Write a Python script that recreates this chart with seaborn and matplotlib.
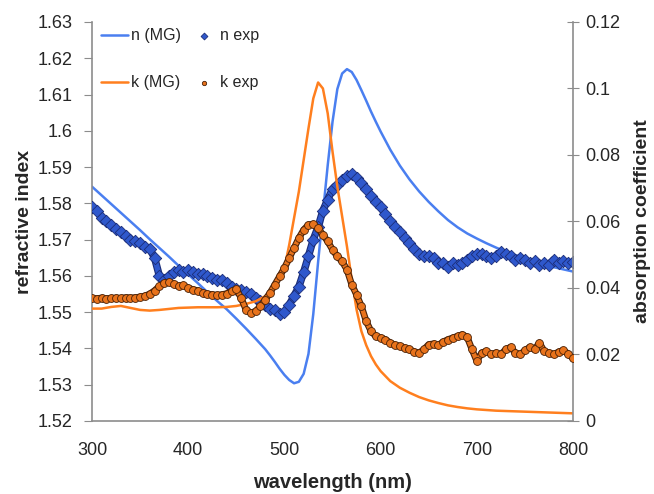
import numpy as np
import pandas as pd
import matplotlib
matplotlib.use("Agg")
import matplotlib.pyplot as plt
import seaborn as sns

# -----------------------------
# Data
# -----------------------------
mg_wl = [300, 310, 320, 330, 340, 350, 360, 370, 380, 390, 400, 410, 420, 430, 440,
         450, 460, 470, 480, 485, 490, 495, 500, 505, 510, 515, 520, 525, 530, 535,
         540, 545, 550, 555, 560, 565, 570, 575, 580, 585, 590, 595, 600, 610, 620, 630, 640,
         650, 660, 670, 680, 690, 700, 710, 720, 730, 740, 750, 760, 770, 780, 790, 800]

n_mg = [1.5846, 1.5822, 1.5798, 1.5774, 1.5750, 1.5726, 1.5701, 1.5677, 1.5653, 1.5628,
        1.5604, 1.5580, 1.5555, 1.5531, 1.5508, 1.5482, 1.5455, 1.5427, 1.5398, 1.5381,
        1.5363, 1.5344, 1.5327, 1.5313, 1.5304, 1.5308, 1.5330, 1.5385, 1.5495, 1.5638,
        1.5772, 1.5905, 1.6025, 1.6115, 1.6158, 1.6170, 1.6162, 1.6140, 1.6112, 1.6083,
        1.6053, 1.6025, 1.5998, 1.5948, 1.5904, 1.5866, 1.5833, 1.5804, 1.5778, 1.5754,
        1.5734, 1.5717, 1.5703, 1.5690, 1.5678, 1.5667, 1.5657, 1.5648, 1.5639, 1.5631,
        1.5624, 1.5618, 1.5612]

k_mg = [0.0338, 0.0338, 0.0343, 0.0346, 0.0340, 0.0334, 0.0332, 0.0334, 0.0337, 0.0340,
        0.0341, 0.0342, 0.0342, 0.0342, 0.0343, 0.0346, 0.0352, 0.0360, 0.0375, 0.0388,
        0.0405, 0.0430, 0.0460, 0.0530, 0.0610, 0.0690, 0.0785, 0.0880, 0.0970, 0.1018,
        0.1000, 0.0925, 0.0810, 0.0705, 0.0615, 0.0525, 0.0425, 0.0335, 0.0270, 0.0228,
        0.0195, 0.0170, 0.0150, 0.0120, 0.0100, 0.0085, 0.0072, 0.0062, 0.0054, 0.0047,
        0.0042, 0.0038, 0.0035, 0.0033, 0.0031, 0.0030, 0.0029, 0.0028, 0.0027, 0.0026,
        0.0025, 0.0024, 0.0023]

exp_wl = list(range(300, 801, 5))

n_exp = [1.5790, 1.5780, 1.5760, 1.5750, 1.5740, 1.5730, 1.5720, 1.5710, 1.5700, 1.5695,
         1.5690, 1.5680, 1.5675, 1.5650, 1.5600, 1.5590, 1.5600, 1.5610, 1.5615, 1.5610,
         1.5615, 1.5610, 1.5605, 1.5605, 1.5600, 1.5595, 1.5590, 1.5590, 1.5580, 1.5570,
         1.5565, 1.5560, 1.5555, 1.5550, 1.5540, 1.5530, 1.5520, 1.5510, 1.5505, 1.5495,
         1.5500, 1.5520, 1.5545, 1.5570, 1.5610, 1.5655, 1.5700, 1.5735, 1.5780, 1.5810,
         1.5840, 1.5850, 1.5865, 1.5875, 1.5880, 1.5870, 1.5855, 1.5840, 1.5820, 1.5805,
         1.5790, 1.5770, 1.5750, 1.5735, 1.5720, 1.5705, 1.5690, 1.5675, 1.5660, 1.5655,
         1.5655, 1.5650, 1.5635, 1.5635, 1.5625, 1.5635, 1.5630, 1.5635, 1.5645, 1.5655,
         1.5660, 1.5660, 1.5655, 1.5650, 1.5655, 1.5665, 1.5660, 1.5655, 1.5645, 1.5650,
         1.5645, 1.5635, 1.5640, 1.5630, 1.5635, 1.5630, 1.5645, 1.5635, 1.5640, 1.5635,
         1.5638]

k_exp = [0.0369, 0.0368, 0.0370, 0.0368, 0.0369, 0.0370, 0.0369, 0.0371, 0.0370, 0.0371,
         0.0373, 0.0376, 0.0382, 0.0392, 0.0405, 0.0415, 0.0418, 0.0412, 0.0405, 0.0408,
         0.0400, 0.0395, 0.0392, 0.0385, 0.0382, 0.0380, 0.0378, 0.0380, 0.0383, 0.0390,
         0.0396, 0.0370, 0.0335, 0.0325, 0.0330, 0.0345, 0.0365, 0.0385, 0.0410, 0.0435,
         0.0460, 0.0490, 0.0520, 0.0550, 0.0575, 0.0590, 0.0592, 0.0580, 0.0560, 0.0540,
         0.0515, 0.0495, 0.0480, 0.0455, 0.0410, 0.0380, 0.0345, 0.0300, 0.0270, 0.0255,
         0.0250, 0.0245, 0.0235, 0.0228, 0.0225, 0.0220, 0.0215, 0.0208, 0.0205, 0.0215,
         0.0230, 0.0232, 0.0228, 0.0238, 0.0245, 0.0250, 0.0255, 0.0260, 0.0252, 0.0215,
         0.0180, 0.0205, 0.0210, 0.0200, 0.0205, 0.0200, 0.0215, 0.0222, 0.0205, 0.0200,
         0.0212, 0.0222, 0.0215, 0.0235, 0.0210, 0.0205, 0.0200, 0.0208, 0.0212, 0.0202,
         0.0188]

x_ticks = [300, 400, 500, 600, 700, 800]
n_ticks = [1.52, 1.53, 1.54, 1.55, 1.56, 1.57, 1.58, 1.59, 1.60, 1.61, 1.62, 1.63]
n_tick_labels = ["1.52", "1.53", "1.54", "1.55", "1.56", "1.57", "1.58", "1.59",
                 "1.6", "1.61", "1.62", "1.63"]
k_ticks = [0, 0.02, 0.04, 0.06, 0.08, 0.10, 0.12]
k_tick_labels = ["0", "0.02", "0.04", "0.06", "0.08", "0.1", "0.12"]

# -----------------------------
# Plot
# -----------------------------
sns.set_style("white")
plt.rcParams["font.family"] = ["Liberation Sans", "DejaVu Sans"]

fig = plt.figure(figsize=(6.54, 4.94), dpi=100)
ax = fig.add_axes([0.1407, 0.1478, 0.7355, 0.8077])
ax2 = ax.twinx()

blue_line = "#4a7ff0"
blue_pts = "#2f58cc"
blue_edge = "#1b2d78"
orange_line = "#ff7f1e"
orange_pts = "#e8731c"
orange_edge = "#4a2208"

sns.lineplot(x=mg_wl, y=n_mg, ax=ax, color=blue_line, linewidth=1.8, label="n (MG)")
# dense measured points: a dark band under the markers so they read as one chain
sns.lineplot(x=exp_wl, y=n_exp, ax=ax, color=blue_edge, linewidth=5.4, zorder=2.5, legend=False)
sns.lineplot(x=exp_wl, y=n_exp, ax=ax, color=blue_pts, linewidth=3.8, zorder=2.6, legend=False)
sns.scatterplot(x=exp_wl, y=n_exp, ax=ax, marker="D", s=40, color=blue_pts,
                edgecolor=blue_edge, linewidth=0.6, label="n exp", zorder=3)

sns.lineplot(x=mg_wl, y=k_mg, ax=ax2, color=orange_line, linewidth=1.8, label="k (MG)")
sns.lineplot(x=exp_wl, y=k_exp, ax=ax2, color=orange_edge, linewidth=4.8, zorder=2.5, legend=False)
sns.lineplot(x=exp_wl, y=k_exp, ax=ax2, color=orange_pts, linewidth=3.2, zorder=2.6, legend=False)
sns.scatterplot(x=exp_wl, y=k_exp, ax=ax2, marker="o", s=32, color=orange_pts,
                edgecolor=orange_edge, linewidth=0.6, label="k exp", zorder=3)

for a in (ax, ax2):
    if a.get_legend() is not None:
        a.get_legend().remove()

ax.set_xlim(300, 800)
ax.set_ylim(1.52, 1.63)
ax2.set_ylim(0, 0.12)
ax.set_xticks(x_ticks)
ax.set_yticks(n_ticks)
ax.set_yticklabels(n_tick_labels)
ax2.set_yticks(k_ticks)
ax2.set_yticklabels(k_tick_labels)

spine_col = "#8c8c8c"
for a in (ax, ax2):
    a.spines["top"].set_visible(False)
    for s in ("left", "right", "bottom"):
        a.spines[s].set_color(spine_col)
        a.spines[s].set_linewidth(1.2)
ax.spines["right"].set_visible(False)
ax2.spines["left"].set_visible(False)
ax2.spines["bottom"].set_visible(False)

ax.tick_params(axis="x", direction="in", length=5, color=spine_col, labelsize=13, pad=15)
ax.tick_params(axis="y", direction="out", length=6, color=spine_col, labelsize=13, pad=8)
ax2.tick_params(axis="y", direction="inout", length=9, color=spine_col, labelsize=13, pad=4)

ax.set_xlabel("wavelength (nm)", fontsize=14.5, fontweight="bold", labelpad=10)
ax.set_ylabel("refractive index", fontsize=14, fontweight="bold", labelpad=3)
ax2.set_ylabel("absorption coefficient", fontsize=14, fontweight="bold", labelpad=10)

h1, l1 = ax.get_legend_handles_labels()
h2, l2 = ax2.get_legend_handles_labels()
hmap = dict(zip(l1 + l2, h1 + h2))
order = ["n (MG)", "k (MG)", "n exp", "k exp"]
ax2.legend([hmap[k] for k in order], order, loc="upper left", ncol=2, frameon=False,
           fontsize=11.5, handlelength=1.7, handletextpad=0.2, labelspacing=2.0,
           columnspacing=0.55, markerscale=0.55, borderaxespad=0.0,
           bbox_to_anchor=(0.005, 1.0))

fig.savefig("out.png", dpi=100)
